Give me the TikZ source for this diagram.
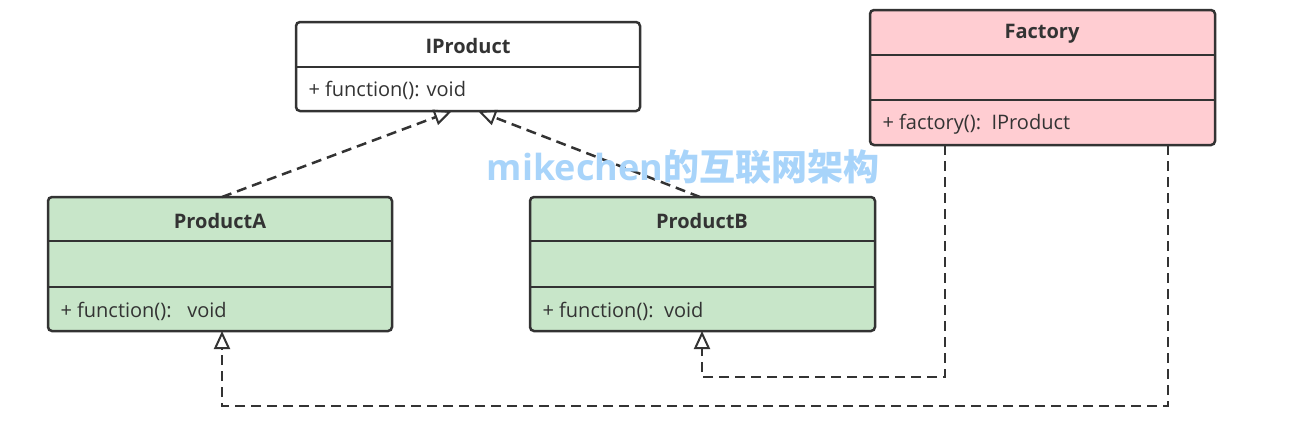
\documentclass[tikz,border=0pt]{standalone}
\usepackage{fontspec}
\setmainfont{Open Sans}
\newfontfamily\cjk{Noto Sans CJK SC}
\usetikzlibrary{arrows.meta}
\definecolor{gfill}{HTML}{C8E6C9}
\definecolor{pfill}{HTML}{FFCDD2}
\definecolor{edge}{HTML}{333333}
\definecolor{wm}{HTML}{A8D4FA}
\begin{document}
\begin{tikzpicture}[x=1pt,y=-1pt,
  box/.style={draw=edge,line width=2.5pt,rounded corners=4pt},
  div/.style={draw=edge,line width=2.5pt},
  title/.style={font=\bfseries\fontsize{20}{22}\selectfont,text=edge},
  item/.style={font=\fontsize{20}{22}\selectfont,text=edge,anchor=west},
  dep/.style={draw=edge,line width=2.5pt,dash pattern=on 10pt off 6pt,-{Triangle[open,length=18pt,width=16pt,line width=2pt]}}]
\useasboundingbox (0,0) rectangle (1297,431);
% IProduct
\draw[box,fill=white] (296,22) rectangle (640,111);
\draw[div] (296,67) -- (640,67);
\node[title] (ip) at (468,46) {IProduct};
\node[item] at (305,90) {+ function(): void};
\coordinate (ipa) at (452,111);
\coordinate (ipb) at (478,111);
% Factory
\draw[box,fill=pfill] (870,10) rectangle (1215,145);
\draw[div] (870,55) -- (1215,55);
\draw[div] (870,100) -- (1215,100);
\node[title] (f) at (1042,34) {Factory};
\node[item] at (879,124) {+ factory():\ \ IProduct};
\coordinate (f1) at (945,145);
\coordinate (f2) at (1168,145);
% ProductA
\draw[box,fill=gfill] (48,197) rectangle (392,331);
\draw[div] (48,241) -- (392,241);
\draw[div] (48,287) -- (392,287);
\node[title] (pa) at (220,221) {ProductA};
\node[item] at (57,311) {+ function():\ \ \ void};
\coordinate (pat) at (222,197);
\coordinate (pab) at (222,331);
% ProductB
\draw[box,fill=gfill] (530,197) rectangle (875,331);
\draw[div] (530,241) -- (875,241);
\draw[div] (530,287) -- (875,287);
\node[title] (pb) at (702,221) {ProductB};
\node[item] at (539,311) {+ function():\ \ void};
\coordinate (pbt) at (700,197);
\coordinate (pbb) at (702,331);
% arrows
\draw[dep] (pat) -- (ipa);
\draw[dep] (pbt) -- (ipb);
\draw[dep] (f1) |- (702,377) -- (pbb);
\draw[dep] (f2) |- (222,406) -- (pab);
\node[text=wm,font=\bfseries\fontsize{36}{40}\selectfont] (w) at (683,167) {mikechen{\cjk 的互联网架构}};
\end{tikzpicture}
\end{document}
